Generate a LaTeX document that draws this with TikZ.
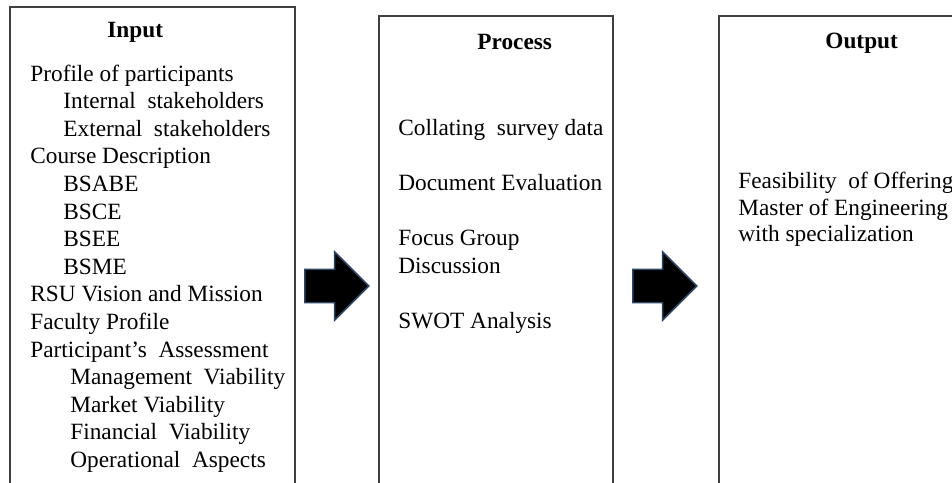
\documentclass[tikz,border=0pt]{standalone}
\usepackage{fontspec}
\setmainfont{Liberation Serif}
\usetikzlibrary{shapes.arrows,positioning}
\definecolor{frame}{HTML}{404040}
\definecolor{rim}{HTML}{2E4562}
\tikzset{
    stagebox/.style={draw=frame, line width=1pt},
    txt/.style={anchor=base west, inner sep=0pt, font=\fontsize{11.65}{13.8}\selectfont},
    head/.style={txt, font=\fontsize{11.65}{13.8}\selectfont\bfseries},
    flow/.style={single arrow, fill=black, draw=rim, line width=0.8pt,
        inner xsep=0pt, inner ysep=7.9pt, single arrow head extend=8.8pt,
        minimum height=32pt, anchor=tail}
}

\begin{document}
\begin{tikzpicture}[x=0.5pt, y=-0.5pt]
        \clip (0,0) rectangle (952,482);

        % the three stages
        \draw[stagebox] (10,7) rectangle (295,495);
        \draw[stagebox] (379,16) rectangle (613,495);
        \draw[stagebox] (719,16) rectangle (965,495);

        \node[head] (inhead) at (107,37) {Input};
        \node[head] (prochead) at (477,49) {Process};
        \node[head] (outhead) at (825,48) {Output};

        % input list, indent in px
        \foreach \txt/\ind [count=\i] in {Profile of participants/0,
            Internal\ \ stakeholders/33, External\ \ stakeholders/33,
            Course Description/0, BSABE/33, BSCE/33, BSEE/33, BSME/33,
            RSU Vision and Mission/0, Faculty Profile/0,
            Participant’s\ \ Assessment/0, Management\ \ Viability/40,
            Market Viability/40, Financial\ \ Viability/40,
            Operational\ \ Aspects/40} {
            \node[txt] (in-\i) at ({30+\ind}, {81+27.6*(\i-1)}) {\txt};
        }

        \node[txt] (proc-1) at (398,135) {Collating\ \ survey data};
        \node[txt] (proc-2) at (398,190) {Document Evaluation};
        \node[txt] (proc-3) at (398,245) {Focus Group};
        \node[txt] (proc-4) at (398,273) {Discussion};
        \node[txt] (proc-5) at (398,328) {SWOT Analysis};

        \node[txt] (out-1) at (738,188) {Feasibility\ \ of Offering};
        \node[txt] (out-2) at (738,215) {Master of Engineering};
        \node[txt] (out-3) at (738,241) {with specialization};

        \node[flow] (flow1) at (304,286) {};
        \node[flow] (flow2) at (632,286) {};

\end{tikzpicture}
\end{document}
